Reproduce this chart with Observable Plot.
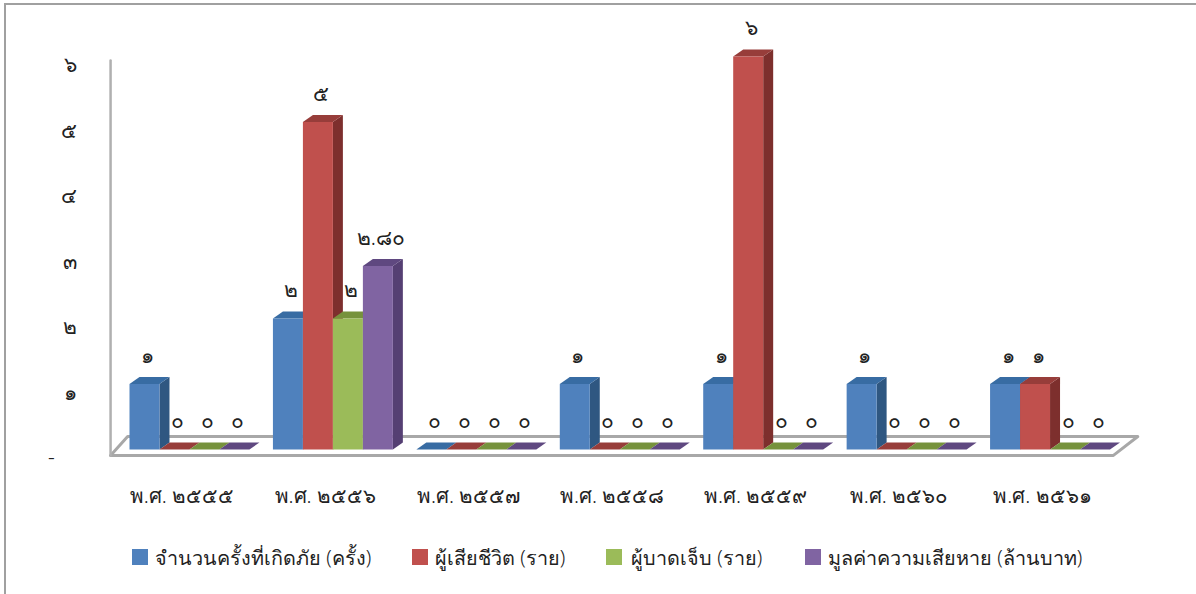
<!DOCTYPE html>
<html lang="th">
<head>
<meta charset="utf-8">
<script src="https://cdn.jsdelivr.net/npm/d3@7"></script>
<script src="https://cdn.jsdelivr.net/npm/@observablehq/plot@0.6"></script>
<style>
html,body{margin:0;padding:0;background:#fff;}
#frame{position:absolute;left:4px;top:3px;width:1192px;height:591px;border-top:2px solid #a0a0a0;border-left:2px solid #a0a0a0;box-sizing:border-box;}
#chart{position:absolute;left:0;top:0;}
#legend{position:absolute;left:0;top:530px;width:1196px;height:60px;font:300 19.8px 'Noto Sans','Liberation Sans',sans-serif;color:#222;}
#legend .sw{position:absolute;top:19px;width:16px;height:16px;}
#legend .lb{position:absolute;top:12px;white-space:nowrap;}
</style>
</head>
<body>
<div id="frame"></div>
<div id="chart"></div>
<div id="legend"></div>
<script>
const years = ["พ.ศ. ๒๕๕๕","พ.ศ. ๒๕๕๖","พ.ศ. ๒๕๕๗","พ.ศ. ๒๕๕๘","พ.ศ. ๒๕๕๙","พ.ศ. ๒๕๖๐","พ.ศ. ๒๕๖๑"];
const seriesNames = ["จำนวนครั้งที่เกิดภัย (ครั้ง)","ผู้เสียชีวิต (ราย)","ผู้บาดเจ็บ (ราย)","มูลค่าความเสียหาย (ล้านบาท)"];
const incidents = [1,2,0,1,1,1,1];
const deaths    = [0,5,0,0,6,0,1];
const injured   = [0,2,0,0,0,0,0];
const damage    = [0,2.8,0,0,0,0,0];
const valueLabels = [
  ["๑","๐","๐","๐"],
  ["๒","๕","๒","๒.๘๐"],
  ["๐","๐","๐","๐"],
  ["๑","๐","๐","๐"],
  ["๑","๖","๐","๐"],
  ["๑","๐","๐","๐"],
  ["๑","๑","๐","๐"]
];
const frontColors = ["#4f81bd","#c0504d","#9bbb59","#8064a2"];
const topColors   = ["#386ca3","#973d3a","#76923c","#5f4880"];
const sideColors  = ["#2f5781","#7d2f2d","#5f7630","#553f73"];
const yTickLabels = ["-\u00a0\u00a0\u00a0\u00a0","๑","๒","๓","๔","๕","๖"];
const legendLeft = [132,412,606,805];
const legendText = [155,435,631,828];

const barW = 30/143.5, depthX = 10/143.5, depthY = 7/65.5;
const allSeries = [incidents,deaths,injured,damage];
const faces = [], labels = [];
let id = 0;
years.forEach((yr,g)=>{
  allSeries.forEach((s,k)=>{
    const v = s[g], x0 = g+k*barW, x1 = x0+barW;
    const add = (fill,pts)=>{const z=id++; pts.forEach(([x,y])=>faces.push({x,y,z,fill}));};
    if(v>0) add(sideColors[k],[[x1,0],[x1+depthX,depthY],[x1+depthX,v+depthY],[x1,v]]);
    add(topColors[k],[[x0,v],[x1,v],[x1+depthX,v+depthY],[x0+depthX,v+depthY]]);
    if(v>0) add(frontColors[k],[[x0,0],[x1,0],[x1,v],[x0,v]]);
    labels.push({x:x0+barW/2,y:v,text:valueLabels[g][k]});
  });
});
const floor = [{x:-0.132,y:-0.09},{x:-0.013,y:0.198},{x:7.03,y:0.198},{x:6.86,y:-0.09},{x:-0.132,y:-0.09}];
const wall = [{x:-0.132,y:-0.09},{x:-0.132,y:5.94}];
const font = "'Noto Sans','Liberation Sans',sans-serif";

const svg = Plot.plot({
  width:1196,height:530,
  marginLeft:77,marginRight:0,marginTop:0,marginBottom:81,
  style:{background:"transparent",fontFamily:font,color:"#222",fontWeight:300},
  x:{type:"linear",domain:[0,7],range:[129,1133],axis:null},
  y:{type:"linear",domain:[0,6],range:[449,56],axis:null},
  color:{type:"identity"},
  marks:[
    Plot.line(floor,{x:"x",y:"y",stroke:"#a8a8a8",strokeWidth:3,fill:"#fff",curve:"linear"}),
    Plot.line(wall,{x:"x",y:"y",stroke:"#b0b0b0",strokeWidth:2.5}),
    Plot.line(faces,{x:"x",y:"y",z:"z",fill:"fill",stroke:"none",curve:"linear"}),
    Plot.axisY([0,1,2,3,4,5,6],{anchor:"left",tickSize:0,tickPadding:1,dy:9,fontSize:21,
      tickFormat:d=>yTickLabels[d],label:null}),
    Plot.axisX(years.map((d,i)=>i+0.365),{anchor:"bottom",tickSize:0,tickPadding:39,fontSize:20.5,
      tickFormat:(d,i)=>years[i],label:null}),
    Plot.text(labels,{x:"x",y:"y",text:"text",dx:3,dy:-28,fontSize:21,fill:"#222"})
  ]
});
document.getElementById("chart").appendChild(svg);

const legend = document.getElementById("legend");
seriesNames.forEach((name,i)=>{
  const sw=document.createElement("div");sw.className="sw";sw.style.left=legendLeft[i]+"px";sw.style.background=frontColors[i];legend.appendChild(sw);
  const lb=document.createElement("div");lb.className="lb";lb.style.left=legendText[i]+"px";lb.textContent=name;legend.appendChild(lb);
});
</script>
</body>
</html>
